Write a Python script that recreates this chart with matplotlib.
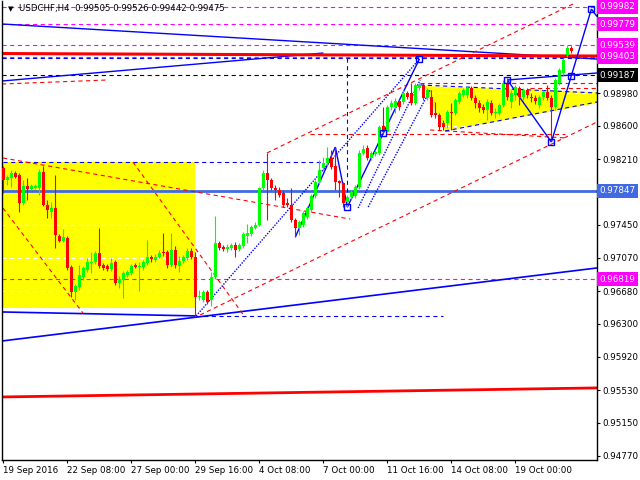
import matplotlib
matplotlib.use("Agg")
import matplotlib.pyplot as plt
from matplotlib.patches import Rectangle, Polygon
from matplotlib.transforms import blended_transform_factory

plt.rcParams['font.family'] = ['DejaVu Sans']
plt.rcParams['lines.scale_dashes'] = False

# ---------------- data ----------------
symbol_line = "USDCHF,H4  0.99505 0.99526 0.99442 0.99475"

opens = [0.98111, 0.97971, 0.97995, 0.98053, 0.98029, 0.97704, 0.97902, 0.97867, 0.97879, 0.97879,
         0.98064, 0.97681, 0.97600, 0.97646, 0.97321, 0.97263, 0.97298, 0.96961, 0.96671, 0.96729,
         0.96845, 0.96926, 0.97008, 0.97019, 0.97124, 0.96984, 0.96973, 0.96938, 0.97019, 0.96775,
         0.96810, 0.96868, 0.96891, 0.96984, 0.96961, 0.96961, 0.97008, 0.97077, 0.97042, 0.97077,
         0.97135, 0.97135, 0.96984, 0.97158, 0.96973, 0.97031, 0.97066, 0.97147, 0.97077, 0.96613,
         0.96578, 0.96671, 0.96578, 0.96845, 0.97240, 0.97193, 0.97170, 0.97182, 0.97217, 0.97170,
         0.97205, 0.97321, 0.97344, 0.97414, 0.97449, 0.97879, 0.98053, 0.97971, 0.97879, 0.97855,
         0.97820, 0.97704, 0.97681, 0.97507, 0.97414, 0.97449, 0.97542, 0.97623, 0.97786, 0.97948,
         0.98111, 0.98169, 0.98227, 0.98134, 0.97960, 0.97937, 0.97716, 0.97774, 0.97786, 0.97890,
         0.98285, 0.98343, 0.98227, 0.98273, 0.98285, 0.98598, 0.98529, 0.98819, 0.98819, 0.98889,
         0.98877, 0.98982, 0.98982, 0.98866, 0.99040, 0.99075, 0.98924, 0.98935, 0.98749, 0.98726,
         0.98633, 0.98633, 0.98761, 0.98749, 0.98877, 0.98958, 0.98958, 0.99040, 0.98924, 0.98866,
         0.98819, 0.98784, 0.98866, 0.98749, 0.98749, 0.98842, 0.99098, 0.98877, 0.98958, 0.99040,
         0.98935, 0.99016, 0.98935, 0.98924, 0.98842, 0.98935, 0.98993, 0.98924, 0.98819, 0.99098,
         0.99214, 0.99423, 0.99505]
highs = [0.98134, 0.98029, 0.98088, 0.98076, 0.98053, 0.97971, 0.97995, 0.97925, 0.97925, 0.98099,
         0.98134, 0.97739, 0.97716, 0.98029, 0.97344, 0.97402, 0.97321, 0.96984, 0.96764, 0.96984,
         0.96973, 0.97066, 0.97135, 0.97147, 0.97414, 0.97008, 0.96996, 0.97066, 0.97042, 0.96857,
         0.96915, 0.96926, 0.96996, 0.97008, 0.97019, 0.97042, 0.97275, 0.97100, 0.97112, 0.97158,
         0.97356, 0.97158, 0.97356, 0.97205, 0.97089, 0.97100, 0.97182, 0.97182, 0.97135, 0.96694,
         0.96694, 0.96694, 0.96903, 0.97553, 0.97263, 0.97217, 0.97228, 0.97240, 0.97251, 0.97240,
         0.97368, 0.97460, 0.97449, 0.97484, 0.97890, 0.98088, 0.98285, 0.97995, 0.97913, 0.97890,
         0.97855, 0.97762, 0.97879, 0.97530, 0.97507, 0.97611, 0.97669, 0.97809, 0.97971, 0.98204,
         0.98238, 0.98355, 0.98320, 0.98355, 0.97971, 0.97948, 0.97797, 0.97855, 0.97913, 0.98320,
         0.98378, 0.98378, 0.98308, 0.98320, 0.98610, 0.98819, 0.98842, 0.98900, 0.98924, 0.98912,
         0.99016, 0.99005, 0.99098, 0.99098, 0.99098, 0.99098, 0.99040, 0.99016, 0.98877, 0.98749,
         0.98668, 0.98784, 0.98866, 0.98924, 0.99005, 0.99040, 0.99063, 0.99063, 0.98958, 0.98900,
         0.98854, 0.98912, 0.98900, 0.98807, 0.98866, 0.99133, 0.99156, 0.99016, 0.99075, 0.99063,
         0.99040, 0.99040, 0.98982, 0.98958, 0.98958, 0.99016, 0.99075, 0.98958, 0.99156, 0.99272,
         0.99388, 0.99539, 0.99526]
lows = [0.97820, 0.97913, 0.97890, 0.97995, 0.97600, 0.97681, 0.97739, 0.97855, 0.97867, 0.97797,
        0.97669, 0.97530, 0.97530, 0.97182, 0.97251, 0.97251, 0.96926, 0.96613, 0.96578, 0.96694,
        0.96810, 0.96903, 0.96891, 0.96996, 0.96950, 0.96926, 0.96915, 0.96915, 0.96752, 0.96717,
        0.96601, 0.96845, 0.96868, 0.96950, 0.96682, 0.96926, 0.96984, 0.97019, 0.97019, 0.97066,
        0.97089, 0.96950, 0.96961, 0.96950, 0.96903, 0.97008, 0.97042, 0.97054, 0.96380, 0.96578,
        0.96555, 0.96531, 0.96508, 0.96822, 0.97158, 0.97147, 0.97135, 0.97158, 0.97077, 0.97147,
        0.97182, 0.97240, 0.97321, 0.97402, 0.97437, 0.97855, 0.97507, 0.97855, 0.97739, 0.97774,
        0.97658, 0.97658, 0.97484, 0.97310, 0.97333, 0.97426, 0.97518, 0.97600, 0.97762, 0.97925,
        0.98088, 0.98146, 0.98099, 0.97855, 0.97774, 0.97658, 0.97658, 0.97751, 0.97762, 0.97867,
        0.98262, 0.98204, 0.98204, 0.98250, 0.98262, 0.98506, 0.98529, 0.98784, 0.98749, 0.98784,
        0.98854, 0.98912, 0.98842, 0.98842, 0.99016, 0.98900, 0.98900, 0.98703, 0.98691, 0.98552,
        0.98552, 0.98575, 0.98552, 0.98726, 0.98854, 0.98935, 0.98924, 0.98900, 0.98807, 0.98761,
        0.98749, 0.98668, 0.98726, 0.98691, 0.98726, 0.98819, 0.98900, 0.98807, 0.98900, 0.98842,
        0.98900, 0.98924, 0.98877, 0.98854, 0.98807, 0.98900, 0.98900, 0.98424, 0.98784, 0.99075,
        0.99191, 0.99400, 0.99442]
closes = [0.97971, 0.98006, 0.98053, 0.98006, 0.97704, 0.97902, 0.97867, 0.97902, 0.97902, 0.98064,
          0.97681, 0.97623, 0.97646, 0.97333, 0.97263, 0.97310, 0.96950, 0.96671, 0.96741, 0.96868,
          0.96950, 0.97019, 0.97019, 0.97124, 0.96973, 0.96950, 0.96938, 0.97008, 0.96775, 0.96822,
          0.96891, 0.96903, 0.96973, 0.96961, 0.96973, 0.97019, 0.97077, 0.97054, 0.97077, 0.97124,
          0.97124, 0.96984, 0.97158, 0.96984, 0.97031, 0.97077, 0.97147, 0.97077, 0.96613, 0.96624,
          0.96671, 0.96555, 0.96845, 0.97240, 0.97182, 0.97170, 0.97193, 0.97217, 0.97158, 0.97217,
          0.97344, 0.97356, 0.97426, 0.97449, 0.97879, 0.98053, 0.97971, 0.97879, 0.97855, 0.97797,
          0.97681, 0.97681, 0.97507, 0.97414, 0.97484, 0.97588, 0.97646, 0.97786, 0.97948, 0.98088,
          0.98169, 0.98227, 0.98122, 0.97948, 0.97937, 0.97704, 0.97774, 0.97832, 0.97890, 0.98285,
          0.98331, 0.98227, 0.98285, 0.98296, 0.98587, 0.98529, 0.98819, 0.98866, 0.98889, 0.98819,
          0.98982, 0.98935, 0.98866, 0.99075, 0.99075, 0.98924, 0.99016, 0.98726, 0.98726, 0.98587,
          0.98587, 0.98761, 0.98749, 0.98900, 0.98982, 0.99016, 0.99040, 0.98924, 0.98866, 0.98807,
          0.98784, 0.98877, 0.98749, 0.98761, 0.98842, 0.99098, 0.98935, 0.98982, 0.99051, 0.98935,
          0.99016, 0.98958, 0.98924, 0.98889, 0.98935, 0.98993, 0.98924, 0.98819, 0.99133, 0.99249,
          0.99365, 0.99505, 0.99475]

time_tick_bars = [0, 16, 32, 48, 64, 80, 96, 112, 128]
time_tick_labels = ["19 Sep 2016", "22 Sep 08:00", "27 Sep 00:00", "29 Sep 16:00", "4 Oct 08:00",
                    "7 Oct 00:00", "11 Oct 16:00", "14 Oct 08:00", "19 Oct 00:00"]
price_ticks = [0.94770, 0.95150, 0.95530, 0.95920, 0.96300, 0.96680, 0.97070, 0.97450, 0.97830,
               0.98210, 0.98600, 0.98980, 0.99360, 0.99740]
# scale labels covered by the coloured level markers
covered_ticks = [0.97830, 0.99360, 0.99740]

# price levels with coloured markers on the price scale: (price, colour)
level_marks = [(0.99982, "#FF00FF"), (0.99779, "#FF00FF"), (0.99539, "#FF00FF"),
               (0.99403, "#FF00FF"), (0.99187, "#000000"), (0.97847, "#4169E1"),
               (0.96819, "#FF00FF")]

# trend lines: (bar0, price0, bar1, price1, colour, style, width)
trend_lines = [
    (-0.33, 0.99783, 148.4, 0.99376, "#0000FF", "-", 1.0),
    (-0.33, 0.99121, 80.0, 0.99446, "#0000FF", "-", 1.0),
    (-0.33, 0.99440, 148.4, 0.99411, "#FF0000", "-", 2.2),
    (-0.33, 0.95452, 148.4, 0.95557, "#FF0000", "-", 2.0),
    (-0.33, 0.96102, 148.4, 0.96950, "#0000FF", "-", 1.2),
    (-0.33, 0.96439, 48.2, 0.96393, "#0000FF", "-", 1.2),
    (48.2, 0.96393, 109.9, 0.96393, "#0000FF", "--", 0.8),
    (-0.1, 0.98180, 79.7, 0.98180, "#0000FF", "--", 0.8),
    (-0.33, 0.99388, 148.4, 0.99388, "#0000FF", "--", 0.8),
    (86.0, 0.99388, 86.0, 0.97658, "#0000FF", "--", 0.8),
    (-0.1, 0.98227, 86.7, 0.97518, "#FF0000", "--", 0.8),
    (-0.33, 0.99086, 26.2, 0.99133, "#FF0000", "--", 0.8),
    (-0.1, 0.97646, 19.9, 0.96427, "#FF0000", "--", 0.8),
    (32.4, 0.98180, 60.4, 0.96380, "#FF0000", "--", 0.8),
    (49.2, 0.96404, 148.4, 0.98645, "#FF0000", "--", 0.8),
    (65.9, 0.98285, 142.9, 1.00027, "#FF0000", "--", 0.8),
    (76.7, 0.98506, 140.4, 0.98506, "#FF0000", "--", 0.8),
    (106.7, 0.98552, 140.9, 0.98459, "#FF0000", "--", 0.8),
    (104.2, 0.99098, 148.4, 0.99098, "#FF0000", "--", 0.8),
    (131.7, 0.99040, 148.4, 0.99040, "#FF0000", "--", 0.8),
    (104.2, 0.99075, 148.4, 0.98982, "#0000FF", "--", 0.8),
    (110.4, 0.98540, 148.4, 0.98877, "#0000FF", "--", 0.8),
    (48.2, 0.96393, 104.0, 0.99376, "#0000FF", ":", 1.0),
    (88.7, 0.97646, 104.2, 0.99133, "#0000FF", ":", 1.0),
    (91.2, 0.97658, 106.7, 0.99016, "#0000FF", ":", 1.0),
    (73.0, 0.97310, 83.0, 0.98355, "#0000FF", "-", 1.0),
    (83.0, 0.98355, 86.0, 0.97658, "#0000FF", "-", 1.0),
    (86.0, 0.97658, 104.0, 0.99376, "#0000FF", "-", 1.0),
    (126.0, 0.99133, 137.0, 0.98412, "#0000FF", "-", 1.0),
    (137.0, 0.98412, 147.0, 0.99957, "#0000FF", "-", 1.0),
    (147.0, 0.99957, 148.4, 0.99870, "#0000FF", "-", 1.0),
    (126.0, 0.99133, 148.4, 0.99214, "#0000FF", "-", 1.0),
]

# pivot markers (bar, price)
pivot_bars = [86, 95, 104, 126, 137, 142, 147]
pivot_prices = [0.97658, 0.98517, 0.99376, 0.99133, 0.98412, 0.99179, 0.99957]

# shaded zones
box_zone = (-0.08, 47.9, 0.96485, 0.98180)          # bar0, bar1, low, high
triangle_zone = [(104.9, 0.99063), (110.4, 0.98540), (160.9, 0.98970)]

# ---------------- figure ----------------
W, H = 640, 480
fig = plt.figure(figsize=(6.4, 4.8), dpi=100)
left_px, right_px, top_px, bottom_px = 2, 597, 1, 460
ax = fig.add_axes([left_px / W, 1 - bottom_px / H, (right_px - left_px) / W, (bottom_px - top_px) / H])
ax.set_xlim(-0.33, 148.4)
ax.set_ylim(0.94720, 1.00050)

# zones (drawn below everything)
x0, x1, lo, hi = box_zone
ax.add_patch(Rectangle((x0, lo), x1 - x0, hi - lo, facecolor="#FFFF00", edgecolor="none", zorder=0))
ax.add_patch(Polygon(triangle_zone, closed=True, facecolor="#FFFF00", edgecolor="none", zorder=0))

# white dashed grid (only shows on the shaded zones)
for p in price_ticks:
    ax.axhline(p, color="white", lw=0.8, ls=(0, (3, 2.5)), zorder=0.5)

# full-width levels
for p, c in level_marks:
    if c == "#4169E1":
        ax.axhline(p, color=c, lw=2.0, zorder=1.5)
    else:
        ax.axhline(p, color=c, lw=0.8, ls=(0, (3, 2.5)), zorder=1.5)

for b0, p0, b1, p1, c, s, w in trend_lines:
    if s == "--":
        ls = (0, (3, 2.5))
    elif s == ":":
        ls = (0, (1, 1))
    else:
        ls = "-"
    ax.plot([b0, b1], [p0, p1], color=c, lw=w, ls=ls, zorder=2, solid_capstyle="butt")

# candles
for i, (o, h, l, c) in enumerate(zip(opens, highs, lows, closes)):
    col = "#00FF00" if c >= o else "#FF0000"
    ax.plot([i, i], [l, h], color=col, lw=0.8, zorder=3, solid_capstyle="butt")
    body = max(abs(c - o), 0.00002)
    ax.add_patch(Rectangle((i - 0.32, min(o, c)), 0.64, body, facecolor=col, edgecolor="none", zorder=3.1))

ax.plot(pivot_bars, pivot_prices, ls="none", marker="s", ms=4.2, mfc="none", mec="#0000FF", mew=1.0, zorder=4)

# axes styling
ax.spines["top"].set_visible(False)
for side in ("left", "right", "bottom"):
    ax.spines[side].set_color("black")
    ax.spines[side].set_linewidth(1.0)

ax.yaxis.tick_right()
ax.set_yticks(price_ticks)
ax.set_yticklabels(["" if p in covered_ticks else f"{p:.5f}" for p in price_ticks])
ax.tick_params(axis="y", direction="out", length=2.5, width=0.8, pad=1.5, labelsize=6.3, colors="black")
ax.set_xticks(time_tick_bars)
ax.set_xticklabels(time_tick_labels)
ax.tick_params(axis="x", direction="out", length=2.5, width=0.8, pad=1.5, labelsize=6.3)
for lab in ax.get_xticklabels():
    lab.set_horizontalalignment("left")

# coloured price markers on the scale
tr = blended_transform_factory(ax.transAxes, ax.transData)
for p, c in level_marks:
    ax.text(1.0 + 2.5 / 595, p, f"{p:.5f}", transform=tr, ha="left", va="center", fontsize=6.3,
            color="white", zorder=10, clip_on=False,
            bbox=dict(boxstyle="square,pad=0.28", facecolor=c, edgecolor="none"))

# symbol header
ax.text(6 / 595, 0.983, "\u25BC", transform=ax.transAxes, ha="left", va="center", fontsize=5, color="black")
ax.text(17 / 595, 0.983, symbol_line, transform=ax.transAxes, ha="left", va="center", fontsize=6.2, color="black")

fig.savefig("out.png", dpi=100, facecolor="white")
